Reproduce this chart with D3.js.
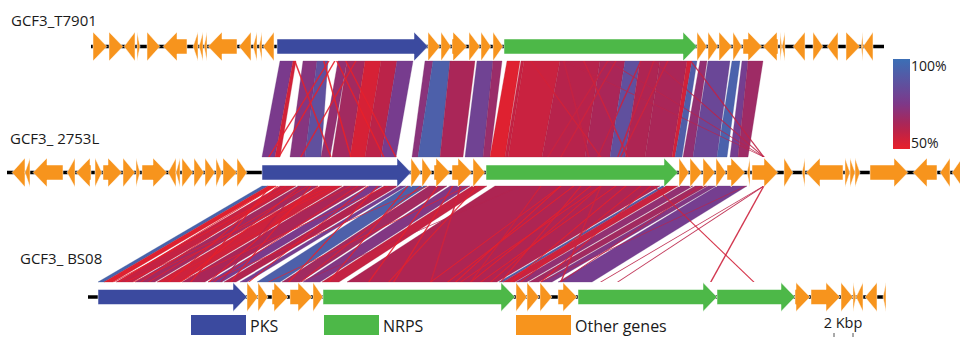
<!DOCTYPE html>
<html>
<head>
<meta charset="utf-8">
<script src="https://cdn.jsdelivr.net/npm/d3@7"></script>
<style>
  body { margin: 0; background: #fff; }
  svg { display: block; }
  text { font-family: "Open Sans", sans-serif; fill: #1a1a1a; }
</style>
</head>
<body>
<div id="chart"></div>
<script>
// clusters, top to bottom
const trackNames = ["GCF3_T7901", "GCF3_ 2753L", "GCF3_ BS08"]
const trackLengths = [79.3, 96.0, 79.7] // kb

// genes: [start kb, end kb, strand, type]  type: p = PKS, n = NRPS, o = other
const genesT7901 = [
  [0.2, 1.6, 1, "o"], [1.8, 3.2, 1, "o"], [3.3, 4.4, -1, "o"], [4.6, 4.9, 1, "o"],
  [5.6, 6.9, 1, "o"], [7.2, 9.6, -1, "o"], [10.2, 10.7, -1, "o"], [10.8, 11.2, -1, "o"],
  [11.3, 11.6, -1, "o"], [11.7, 14.6, -1, "o"], [14.8, 16.0, -1, "o"], [16.2, 16.6, -1, "o"],
  [16.8, 17.1, -1, "o"], [17.2, 18.3, -1, "o"], [18.6, 33.7, 1, "p"], [33.7, 34.9, 1, "o"],
  [35.0, 36.0, 1, "o"], [36.1, 37.6, 1, "o"], [37.8, 38.9, 1, "o"], [39.0, 40.0, 1, "o"],
  [40.2, 41.2, 1, "o"], [41.3, 60.6, 1, "n"], [60.6, 61.6, 1, "o"], [61.7, 62.7, 1, "o"],
  [62.8, 64.1, 1, "o"], [64.2, 65.1, 1, "o"], [65.2, 67.1, 1, "o"], [67.2, 68.7, -1, "o"],
  [68.9, 69.1, 1, "o"], [69.1, 69.4, -1, "o"], [70.2, 71.4, -1, "o"], [72.2, 73.2, 1, "o"],
  [73.6, 74.7, -1, "o"], [75.5, 76.9, 1, "o"], [77.0, 77.2, -1, "o"], [77.2, 78.2, -1, "o"]
]
const genes2753L = [
  [0.5, 1.8, -1, "o"], [1.8, 2.3, -1, "o"], [2.6, 5.6, -1, "o"], [6.0, 6.8, -1, "o"],
  [6.9, 8.4, -1, "o"], [8.8, 9.5, 1, "o"], [9.6, 11.5, 1, "o"], [11.6, 12.8, 1, "o"],
  [12.9, 13.3, 1, "o"], [13.5, 16.0, 1, "o"], [16.1, 16.9, -1, "o"], [16.9, 17.3, -1, "o"],
  [17.5, 18.6, 1, "o"], [18.7, 19.7, 1, "o"], [19.8, 20.8, 1, "o"], [20.9, 21.5, 1, "o"],
  [21.6, 23.0, 1, "o"], [23.0, 24.0, 1, "o"], [25.5, 40.4, 1, "p"], [40.4, 41.4, 1, "o"],
  [41.5, 42.5, 1, "o"], [42.7, 44.3, 1, "o"], [44.5, 46.5, 1, "o"], [46.6, 47.8, 1, "o"],
  [47.9, 67.1, 1, "n"], [67.2, 68.2, 1, "o"], [68.3, 69.5, 1, "o"], [69.6, 70.8, 1, "o"],
  [70.9, 71.9, 1, "o"], [72.0, 73.8, 1, "o"], [74.0, 74.3, -1, "o"], [74.5, 77.1, 1, "o"],
  [77.7, 78.6, 1, "o"], [79.5, 79.8, -1, "o"], [79.9, 83.6, -1, "o"], [83.8, 84.3, 1, "o"],
  [84.3, 84.8, 1, "o"], [84.8, 85.3, 1, "o"], [86.3, 90.1, 1, "o"], [90.6, 93.0, -1, "o"],
  [93.3, 94.3, -1, "o"], [94.5, 95.5, -1, "o"]
]
const genesBS08 = [
  [1.0, 15.9, 1, "p"], [15.9, 17.0, 1, "o"], [17.0, 18.0, 1, "o"], [18.4, 20.0, 1, "o"],
  [20.2, 22.4, 1, "o"], [22.5, 23.5, 1, "o"], [23.5, 42.7, 1, "n"], [42.8, 43.9, 1, "o"],
  [43.9, 45.1, 1, "o"], [45.2, 46.4, 1, "o"], [47.0, 48.9, 1, "o"], [49.0, 62.9, 1, "n"],
  [62.9, 70.7, 1, "n"], [70.7, 72.2, 1, "o"], [72.3, 75.2, 1, "o"], [75.3, 76.5, 1, "o"],
  [76.5, 76.8, 1, "o"], [76.8, 77.5, -1, "o"], [77.7, 78.9, -1, "o"], [79.5, 79.8, -1, "o"]
]

// blastn hits: [upper start, upper end, lower start, lower end, identity %]
const hitsT7901_2753L = [
  [18.9, 20.2, 25.5, 26.8, 76], [20.2, 20.5, 26.8, 27.3, 55], [21.2, 22.6, 28.3, 29.8, 73],
  [22.6, 23.7, 29.8, 31.4, 86], [24.7, 25.6, 31.4, 32.3, 70], [25.6, 27.4, 32.5, 34.3, 66],
  [27.4, 29.0, 34.3, 35.8, 54], [29.0, 30.6, 35.8, 37.4, 60], [30.6, 32.2, 37.4, 38.9, 77],
  [33.4, 34.2, 40.5, 41.1, 72], [34.2, 35.9, 41.1, 43.3, 93], [35.9, 38.4, 43.3, 45.6, 64],
  [38.6, 40.2, 45.8, 47.6, 80], [40.2, 41.1, 47.6, 48.3, 68], [41.6, 42.9, 48.3, 49.8, 52],
  [43.0, 43.3, 49.8, 50.1, 58], [43.3, 46.9, 50.1, 53.5, 57], [46.9, 50.9, 53.5, 57.8, 61],
  [50.9, 53.4, 57.8, 60.3, 64], [53.4, 54.9, 60.3, 61.8, 86], [54.9, 56.9, 61.8, 63.8, 63],
  [56.9, 59.6, 63.8, 66.5, 64], [59.6, 60.1, 66.5, 66.8, 55], [60.1, 60.6, 66.8, 67.5, 92],
  [60.9, 61.6, 67.6, 68.6, 70], [61.7, 63.9, 68.6, 71.0, 82], [64.1, 64.9, 71.0, 72.0, 94],
  [65.1, 65.7, 72.3, 73.1, 78], [65.7, 67.2, 73.1, 74.1, 67]
]
const hits2753L_BS08 = [
  [25.5, 26.1, 1.0, 1.6, 95], [26.1, 26.9, 1.6, 2.5, 52], [27.3, 28.9, 2.8, 4.5, 58],
  [29.1, 31.1, 4.7, 6.7, 66], [31.3, 33.5, 6.9, 9.2, 56], [33.7, 35.9, 9.4, 11.7, 64],
  [36.2, 37.5, 12.0, 13.4, 76], [37.7, 39.1, 13.6, 14.8, 62], [39.3, 39.9, 15.2, 15.9, 78],
  [40.0, 42.0, 16.9, 19.2, 93], [42.2, 44.0, 19.4, 21.2, 66], [44.3, 46.3, 21.5, 23.2, 74],
  [46.5, 48.0, 23.4, 25.1, 58], [48.8, 65.3, 25.9, 40.9, 63], [65.5, 65.9, 41.1, 41.5, 92],
  [65.9, 67.1, 41.5, 42.7, 57], [67.3, 68.6, 42.8, 43.9, 70], [68.8, 70.0, 44.1, 45.1, 66],
  [70.1, 70.9, 45.3, 46.4, 74], [71.0, 74.0, 47.0, 50.4, 78]
]
// short scattered hits (thin crossing strands): [upper pos, lower pos, identity %]
const scatterT7901_2753L = [
  [23.7, 26.1, 51], [24.3, 27.1, 50], [20.3, 32.3, 52], [24.5, 37.6, 50], [25.4, 38.8, 51],
  [23.2, 34.3, 50], [26.4, 29.3, 52], [47.2, 58.1, 58], [51.6, 54.0, 57], [49.2, 62.0, 56],
  [54.9, 59.0, 58], [56.2, 61.0, 57], [57.6, 61.3, 56], [47.2, 75.6, 60], [51.6, 75.6, 60],
  [56.2, 75.6, 60], [59.9, 75.6, 59], [43.9, 59.3, 55], [52.4, 55.3, 56]
]
const scatter2753L_BS08 = [
  [29.3, 9.2, 50], [27.8, 5.2, 51], [32.3, 3.7, 50], [26.3, 10.2, 50], [34.3, 7.2, 52],
  [30.3, 14.2, 51], [41.3, 21.2, 53], [75.6, 51.2, 60], [75.6, 52.9, 60], [75.6, 62.2, 56],
  [64.6, 66.5, 55], [69.3, 47.2, 58], [73.8, 45.2, 60], [45.3, 34.2, 56],
  [56.6, 35.9, 50], [55.3, 34.2, 51], [58.3, 38.2, 50], [59.3, 40.2, 52], [61.8, 42.2, 50],
  [59.3, 37.2, 51], [60.8, 39.2, 50], [63.3, 43.2, 52], [64.3, 45.2, 51], [57.3, 41.2, 53],
  [55.3, 36.7, 50], [53.3, 38.2, 55], [59.3, 47.2, 56], [51.3, 21.2, 62], [29.3, 13.2, 62],
  [27.0, 8.0, 50], [28.5, 2.5, 50], [31.0, 12.0, 51], [33.0, 4.5, 50], [36.0, 16.0, 51],
  [38.0, 9.0, 50], [40.0, 24.0, 52], [43.0, 28.0, 51], [46.0, 18.0, 50], [47.0, 30.0, 52],
  [37.0, 20.0, 50], [35.0, 12.5, 51], [42.0, 12.0, 50], [44.5, 30.5, 52], [26.8, 3.0, 50],
  [30.0, 6.0, 51]
]

const legendTypes = ["PKS", "NRPS", "Other genes"]
const identityTicks = [100, 50]
const scaleBarKb = 2

// layout
const width = 960
const height = 337
const pxPerKb = 10
const trackX = [91, 7, 88]
const trackY = [46.5, 172.5, 297]
const labelPos = [[11, 26], [10, 144], [20, 264]]
const linkY = [[61, 157], [186, 282]]
const headH = 14.5, bodyH = 7.5, headLen = 14
const geneColor = {p: "#3b4a9f", n: "#4db848", o: "#f7941d"}

const tracks = [genesT7901, genes2753L, genesBS08]
const hits = [hitsT7901_2753L, hits2753L_BS08]
const scatters = [scatterT7901_2753L, scatter2753L_BS08]

const xs = trackX.map(x0 => d3.scaleLinear().domain([0, 1]).range([x0, x0 + pxPerKb]))
const color = d3.scaleLinear()
  .domain([50, 62, 76, 100])
  .range(["#e8202a", "#b2234f", "#7a3a8c", "#3b6fb6"])
  .interpolate(d3.interpolateRgb)

const svg = d3.select("#chart").append("svg")
  .attr("width", width)
  .attr("height", height)
  .attr("viewBox", `0 0 ${width} ${height}`)

// comparison bands
hits.forEach((h, i) => {
  const xa = xs[i], xb = xs[i + 1]
  const [y0, y1] = linkY[i]
  const g = svg.append("g")
  g.selectAll("path.band")
    .data(h)
    .join("path")
      .attr("class", "band")
      .attr("fill", d => color(d[4]))
      .attr("stroke", d => d3.color(color(d[4])).darker(0.4))
      .attr("stroke-width", 0.3)
      .attr("d", d => `M${xa(d[0])},${y0}L${xa(d[1])},${y0}L${xb(d[3])},${y1}L${xb(d[2])},${y1}Z`)
  g.selectAll("path.strand")
    .data(scatters[i])
    .join("path")
      .attr("class", "strand")
      .attr("fill", d => color(d[2]))
      .attr("opacity", 0.9)
      .attr("d", d => `M${xa(d[0])},${y0}L${xa(d[0] + 0.16)},${y0}L${xb(d[1] + 0.16)},${y1}L${xb(d[1])},${y1}Z`)
})

function arrow(x0, x1, y, strand) {
  const hl = Math.min(headLen, x1 - x0)
  if (strand > 0) {
    const xb = x1 - hl
    return `M${x0},${y - bodyH}L${xb},${y - bodyH}L${xb},${y - headH}L${x1},${y}L${xb},${y + headH}L${xb},${y + bodyH}L${x0},${y + bodyH}Z`
  }
  const xb = x0 + hl
  return `M${x1},${y - bodyH}L${xb},${y - bodyH}L${xb},${y - headH}L${x0},${y}L${xb},${y + headH}L${xb},${y + bodyH}L${x1},${y + bodyH}Z`
}

// tracks
tracks.forEach((genes, i) => {
  const x = xs[i], y = trackY[i]
  const g = svg.append("g")
  g.append("line")
    .attr("x1", x(0)).attr("x2", x(trackLengths[i]))
    .attr("y1", y).attr("y2", y)
    .attr("stroke", "#000")
    .attr("stroke-width", 3.5)
  g.selectAll("path")
    .data(genes)
    .join("path")
      .attr("fill", d => geneColor[d[3]])
      .attr("stroke", "#fff")
      .attr("stroke-width", 0.5)
      .attr("d", d => arrow(x(d[0]), x(d[1]), y, d[2]))
  svg.append("text")
    .attr("x", labelPos[i][0])
    .attr("y", labelPos[i][1])
    .attr("font-size", 15)
    .text(trackNames[i])
})

// identity colour key
const grad = svg.append("defs").append("linearGradient")
  .attr("id", "idgrad")
  .attr("x1", 0).attr("x2", 0).attr("y1", 0).attr("y2", 1)
grad.selectAll("stop")
  .data(d3.range(0, 1.001, 0.1))
  .join("stop")
    .attr("offset", d => d)
    .attr("stop-color", d => color(100 - d * 50))
const keyY = d3.scaleLinear().domain([100, 50]).range([59, 149])
svg.append("rect")
  .attr("x", 893).attr("y", keyY(100))
  .attr("width", 17).attr("height", keyY(50) - keyY(100))
  .attr("fill", "url(#idgrad)")
svg.selectAll("text.key")
  .data(identityTicks)
  .join("text")
    .attr("class", "key")
    .attr("x", 911)
    .attr("y", (d, i) => keyY(d) + (i === 0 ? 12 : -1))
    .attr("font-size", 14)
    .attr("fill", "#333")
    .text(d => d + "%")

// gene type legend
const legX = d3.scaleOrdinal().domain(legendTypes).range([191, 324, 516])
const legG = svg.selectAll("g.leg")
  .data(legendTypes)
  .join("g")
    .attr("class", "leg")
    .attr("transform", d => `translate(${legX(d)},315)`)
legG.append("rect")
  .attr("width", 55).attr("height", 20)
  .attr("fill", (d, i) => geneColor["pno"[i]])
legG.append("text")
  .attr("x", 59).attr("y", 17)
  .attr("font-size", 16)
  .text(d => d)

// scale bar
const sb = svg.append("g").attr("transform", "translate(834,0)")
sb.append("text")
  .attr("x", 9).attr("y", 328)
  .attr("text-anchor", "middle")
  .attr("font-size", 14.5)
  .text(`${scaleBarKb} Kbp`)
sb.append("line")
  .attr("x1", 0).attr("x2", scaleBarKb * pxPerKb - 1)
  .attr("y1", 339).attr("y2", 339)
  .attr("stroke", "#333")
sb.selectAll("line.tick")
  .data([0, scaleBarKb])
  .join("line")
    .attr("class", "tick")
    .attr("x1", d => d * (pxPerKb - 0.5)).attr("x2", d => d * (pxPerKb - 0.5))
    .attr("y1", 333).attr("y2", 340)
    .attr("stroke", "#555")
</script>
</body>
</html>
